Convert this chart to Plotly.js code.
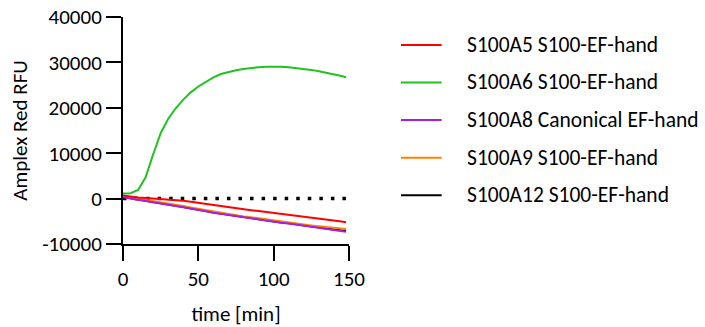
<!DOCTYPE html>
<html>
<head>
<meta charset="utf-8">
<script src="https://cdn.plot.ly/plotly-3.0.1.min.js"></script>
<style>html,body{margin:0;padding:0;background:#fff}#chart{width:705px;height:327px}</style>
</head>
<body>
<div id="chart"></div>
<script>
// ---- data ----
var time = [0,5,10,15,20,25,30,35,40,45,50,55,60,65,70,75,80,85,90,95,100,105,110,115,120,125,130,135,140,145,148];
var seriesNames = ["S100A5 S100-EF-hand","S100A6 S100-EF-hand","S100A8 Canonical EF-hand","S100A9 S100-EF-hand","S100A12 S100-EF-hand"];
var seriesColors = ["#ff0000","#1ec31e","#a41ee6","#ff8000","#000000"];
var s100a5 = [700,400,250,150,50,-50,-150,-300,-450,-700,-950,-1150,-1400,-1650,-1900,-2150,-2400,-2550,-2750,-2950,-3100,-3300,-3500,-3750,-4000,-4200,-4400,-4600,-4800,-5050,-5200];
var s100a6 = [1100,1200,1900,4700,9700,14400,17600,19900,21800,23400,24700,25800,26700,27450,27900,28250,28550,28800,28950,29050,29100,29050,28950,28800,28600,28350,28050,27750,27400,27000,26750];
var s100a8 = [300,0,-300,-600,-800,-1100,-1350,-1650,-1900,-2250,-2550,-2800,-3100,-3350,-3650,-3950,-4200,-4400,-4650,-4900,-5150,-5300,-5500,-5750,-6000,-6200,-6450,-6650,-6850,-7100,-7300];
var s100a9 = [500,250,-50,-350,-600,-850,-1100,-1350,-1600,-1950,-2250,-2500,-2750,-3050,-3350,-3650,-3950,-4100,-4350,-4600,-4800,-5000,-5200,-5450,-5700,-5900,-6100,-6300,-6450,-6600,-6700];
var s100a12 = [350,50,-250,-550,-750,-1050,-1300,-1600,-1850,-2200,-2500,-2750,-3050,-3300,-3600,-3900,-4150,-4350,-4600,-4850,-5100,-5250,-5450,-5700,-5950,-6150,-6400,-6600,-6800,-7000,-7150];
var baselineX = [0,150];
var baselineY = [0,0];
var xTicks = [0,50,100,150];
var yTicks = [-10000,0,10000,20000,30000,40000];

var FONT = "Carlito, Calibri, Lato, sans-serif";
var FS = 21;
var allSeries = [s100a5, s100a6, s100a8, s100a9, s100a12];
var order = [4,3,0,2,1]; // draw order (black under purple)
var traces = [{
  x: baselineX, y: baselineY, mode: "lines", showlegend: false, hoverinfo: "skip",
  line: {color: "#000", width: 3.5, dash: "3.5px,8.05px"}
}];
order.forEach(function(i){
  traces.push({x: time, y: allSeries[i], mode: "lines", name: seriesNames[i],
    line: {color: seriesColors[i], width: 2}, showlegend: false});
});

// manual legend (built from names/colors)
var shapes = [], annotations = [];
var rowY = [0.8767, 0.7115, 0.546, 0.380, 0.2145];
seriesNames.forEach(function(n, i){
  shapes.push({type: "line", xref: "paper", yref: "paper", x0: 1.230, x1: 1.410, y0: rowY[i], y1: rowY[i],
    line: {color: seriesColors[i], width: 2}});
  annotations.push({xref: "paper", yref: "paper", x: 1.513, y: rowY[i], xanchor: "left", yanchor: "middle",
    text: n, showarrow: false, font: {family: FONT, size: 21.5, color: "#000"}});
});

var layout = {
  width: 705, height: 327,
  margin: {l: 123, r: 356, t: 17, b: 83, pad: 0},
  paper_bgcolor: "#fff", plot_bgcolor: "#fff",
  font: {family: FONT, size: FS, color: "#000"},
  showlegend: false,
  xaxis: {range: [0, 150], tickvals: xTicks, ticks: "outside", ticklen: 15, tickwidth: 2, tickcolor: "#000",
    showline: true, linewidth: 2, linecolor: "#000", showgrid: false, zeroline: false,
    tickfont: {family: FONT, size: FS}, title: {text: "time [min]", font: {family: FONT, size: FS}, standoff: 17}},
  yaxis: {range: [-10000, 40000], tickvals: yTicks, ticktext: yTicks.map(String), ticks: "outside", ticklen: 15, tickwidth: 2, tickcolor: "#000",
    showline: true, linewidth: 2, linecolor: "#000", showgrid: false, zeroline: false,
    tickfont: {family: FONT, size: FS}, title: {text: "Amplex Red RFU", font: {family: FONT, size: FS}, standoff: 9}},
  shapes: shapes, annotations: annotations
};
Plotly.newPlot("chart", traces, layout, {staticPlot: true, displayModeBar: false});
</script>
</body>
</html>
